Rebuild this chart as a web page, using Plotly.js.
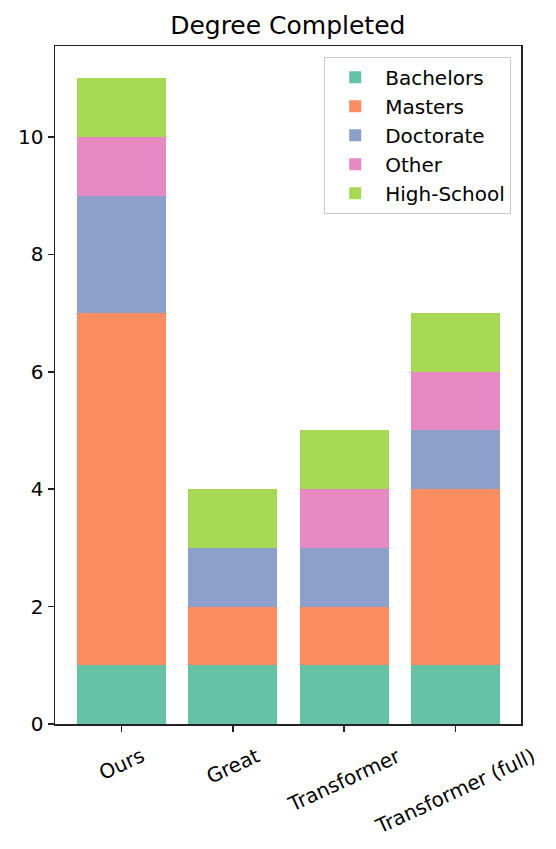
<!DOCTYPE html>
<html>
<head>
<meta charset="utf-8">
<script src="https://cdn.plot.ly/plotly-3.0.1.min.js"></script>
<style>
  html, body { margin: 0; padding: 0; background: #fff; }
  #plot { width: 556px; height: 849px; }
</style>
</head>
<body>
<div id="plot"></div>
<script>
// models on the x axis
const models = ["Ours", "Great", "Transformer", "Transformer (full)"];

// counts per degree, stacked bottom to top
const bachelors = [1, 1, 1, 1];
const masters = [6, 1, 1, 3];
const doctorate = [2, 1, 1, 1];
const other = [1, 0, 1, 1];
const highSchool = [1, 1, 1, 1];

const seriesNames = ["Bachelors", "Masters", "Doctorate", "Other", "High-School"];
const seriesValues = [bachelors, masters, doctorate, other, highSchool];
const colors = ["#66c2a5", "#fc8d62", "#8da0cb", "#e78ac3", "#a6d854"];

const font = "DejaVu Sans, sans-serif";

let data = seriesNames.map((name, i) => ({
    type: "bar",
    x: [0, 1, 2, 3],
    y: seriesValues[i],
    name: name,
    legendgroup: name,
    marker: { color: colors[i], line: { width: 0 } },
    hoverinfo: "none"
}));

// rotated, centred tick labels like the original
let tickLabels = models.map((m, i) => ({
    x: i,
    y: -0.024,
    xref: "x",
    yref: "paper",
    text: m,
    showarrow: false,
    textangle: -25,
    xanchor: "center",
    yanchor: "top",
    font: { family: font, size: 20, color: "#000" }
}));

let layout = {
    width: 556,
    height: 849,
    margin: { l: 55, r: 35, t: 46, b: 125 },
    paper_bgcolor: "#fff",
    plot_bgcolor: "#fff",
    barmode: "stack",
    bargap: 0.2,
    font: { family: font, size: 20, color: "#000" },
    title: {
        text: "Degree Completed",
        x: 0.5176,
        xanchor: "center",
        y: 0.9706,
        yanchor: "middle",
        font: { family: font, size: 25, color: "#000" }
    },
    xaxis: {
        range: [-0.6, 3.59],
        tickvals: [0, 1, 2, 3],
        showticklabels: false,
        ticks: "outside",
        ticklen: 6,
        tickwidth: 1.5,
        tickcolor: "#222",
        showline: true,
        mirror: true,
        linecolor: "#222",
        linewidth: 1.5,
        showgrid: false,
        zeroline: false
    },
    yaxis: {
        range: [0, 11.55],
        tickvals: [0, 2, 4, 6, 8, 10],
        ticks: "outside",
        ticklen: 6,
        tickwidth: 1.5,
        tickcolor: "#222",
        tickfont: { family: font, size: 20, color: "#000" },
        showline: true,
        mirror: true,
        linecolor: "#222",
        linewidth: 1.5,
        showgrid: false,
        zeroline: false
    },
    showlegend: true,
    legend: {
        x: 0.979,
        xanchor: "right",
        y: 0.984,
        yanchor: "top",
        traceorder: "normal",
        tracegroupgap: 5.5,
        itemwidth: 50,
        bgcolor: "rgba(255,255,255,0.8)",
        bordercolor: "#cccccc",
        borderwidth: 1,
        font: { family: font, size: 20, color: "#000" }
    },
    annotations: tickLabels
};

let config = { staticPlot: true };

Plotly.newPlot("plot", data, layout, config);
</script>
</body>
</html>
